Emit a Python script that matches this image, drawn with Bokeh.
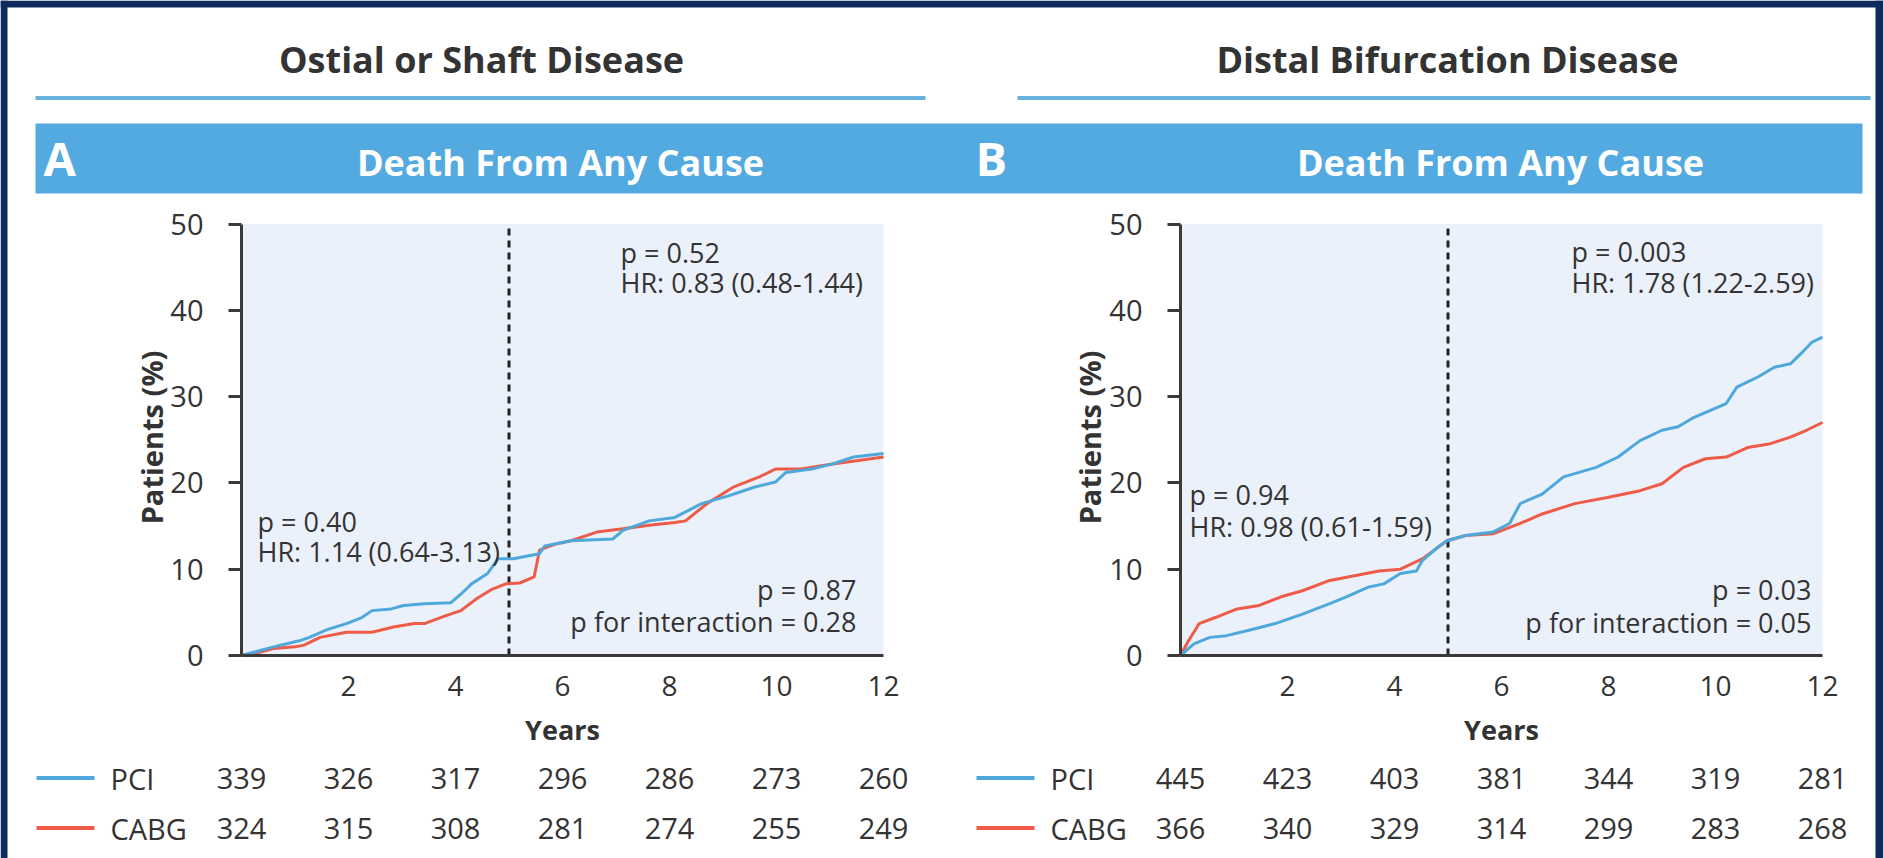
import math
from bokeh.plotting import figure
from bokeh.models import LinearAxis, FixedTicker, Range1d
from bokeh.core.properties import value
from bokeh.embed import file_html
from bokeh.resources import INLINE

# ---------------- data ----------------
x_ticks = [2, 4, 6, 8, 10, 12]
y_ticks = [0, 10, 20, 30, 40, 50]
risk_years = [0, 2, 4, 6, 8, 10, 12]
landmark_year = 5
groups = ["PCI", "CABG"]

a_title = "Ostial or Shaft Disease"
b_title = "Distal Bifurcation Disease"
outcome = "Death From Any Cause"

a_pci_t = [0, 0.3, 0.6, 1.08, 1.27, 1.6, 1.96, 2.25, 2.44, 2.8, 3.03, 3.42, 3.91, 4.1, 4.3, 4.6, 4.79,
           5.08, 5.57, 5.67, 6.16, 6.94, 7.13, 7.62, 8.1, 8.6, 9.1, 9.58, 9.98, 10.17, 10.66, 11.05, 11.44, 12.0]
a_pci_v = [0, 0.5, 1.0, 1.7, 2.1, 3.0, 3.7, 4.4, 5.2, 5.4, 5.8, 6.0, 6.1, 7.1, 8.3, 9.5, 11.2,
           11.2, 11.8, 12.7, 13.3, 13.5, 14.5, 15.6, 16.0, 17.6, 18.5, 19.5, 20.1, 21.2, 21.6, 22.2, 23.0, 23.4]
a_cabg_t = [0, 0.3, 0.6, 1.0, 1.17, 1.47, 1.96, 2.44, 2.84, 3.23, 3.42, 3.81, 4.1, 4.4, 4.69, 4.94, 5.2,
            5.47, 5.57, 5.86, 6.16, 6.64, 7.13, 7.62, 8.1, 8.3, 8.7, 9.19, 9.68, 9.98, 10.46, 11.05, 11.53, 12.0]
a_cabg_v = [0, 0.3, 0.8, 1.0, 1.2, 2.1, 2.7, 2.7, 3.3, 3.7, 3.7, 4.6, 5.2, 6.6, 7.7, 8.3, 8.4,
            9.1, 12.2, 12.9, 13.3, 14.3, 14.7, 15.1, 15.4, 15.6, 17.6, 19.5, 20.7, 21.6, 21.6, 22.2, 22.6, 23.0]

b_pci_t = [0, 0.25, 0.55, 0.86, 1.26, 1.77, 2.28, 2.79, 3.1, 3.5, 3.8, 4.11, 4.41, 4.52, 4.82, 4.98,
           5.33, 5.84, 6.15, 6.35, 6.76, 7.16, 7.77, 8.18, 8.59, 9.0, 9.3, 9.6, 10.2, 10.4, 10.8, 11.1,
           11.4, 11.6, 11.8, 12.0]
b_pci_v = [0, 1.35, 2.1, 2.3, 2.9, 3.7, 4.8, 6.0, 6.8, 7.9, 8.3, 9.5, 9.8, 11.0, 12.6, 13.3,
           13.9, 14.3, 15.3, 17.6, 18.7, 20.7, 21.8, 23.0, 24.9, 26.1, 26.5, 27.6, 29.2, 31.1, 32.3, 33.4,
           33.8, 35.0, 36.3, 36.9]
b_cabg_t = [0, 0.15, 0.35, 0.65, 1.06, 1.47, 1.88, 2.28, 2.79, 3.3, 3.71, 4.11, 4.52, 4.98, 5.33, 5.84,
            6.35, 6.76, 7.37, 7.98, 8.59, 9.0, 9.4, 9.81, 10.2, 10.6, 11.0, 11.4, 11.7, 12.0]
b_cabg_v = [0, 1.7, 3.7, 4.4, 5.4, 5.8, 6.8, 7.5, 8.7, 9.3, 9.8, 10.0, 11.2, 13.3, 13.9, 14.1,
            15.3, 16.4, 17.6, 18.3, 19.1, 19.9, 21.8, 22.8, 23.0, 24.1, 24.5, 25.3, 26.1, 27.0]

a_pci_risk = [339, 326, 317, 296, 286, 273, 260]
a_cabg_risk = [324, 315, 308, 281, 274, 255, 249]
b_pci_risk = [445, 423, 403, 381, 344, 319, 281]
b_cabg_risk = [366, 340, 329, 314, 299, 283, 268]

a_notes = ["p = 0.52", "HR: 0.83 (0.48-1.44)", "p = 0.40", "HR: 1.14 (0.64-3.13)",
           "p = 0.87", "p for interaction = 0.28"]
b_notes = ["p = 0.003", "HR: 1.78 (1.22-2.59)", "p = 0.94", "HR: 0.98 (0.61-1.59)",
           "p = 0.03", "p for interaction = 0.05"]

# ---------------- styles / layout ----------------
PCI_C = "#4ea8dc"
CABG_C = "#ee5b48"
BAND_C = "#53aae0"
RULE_C = "#67b3de"
SHADE_C = "#ebf1fa"
NAVY_C = "#0f2a5e"
TXT_C = "#333333"
AXIS_C = "#3a3a3a"
FONT = "Open Sans"

W = 1883
H = 858
PX_YR = 53.5
Y0 = 655.0
PX_U = (655.0 - 223.5) / 50.0
BASE_CORR = 0.36
X0_A = 241.0
X0_B = 1180.0

XA = lambda px: (px - X0_A) / PX_YR
XB = lambda px: (px - X0_B) / PX_YR
Y = lambda py: (Y0 - py) / PX_U

p = figure(width=W, height=H, x_range=Range1d(XA(0), XA(W)), y_range=Range1d(Y(H), Y(0)),
           output_backend="svg", toolbar_location=None,
           x_axis_location=None, y_axis_location=None, min_border=0)
p.extra_x_ranges = {"b": Range1d(XB(0), XB(W))}
p.outline_line_color = None
p.background_fill_color = "white"
p.border_fill_color = "white"
p.grid.visible = False


def txt(px, py, s, fs, align="left", bold=False, color=TXT_C):
    p.text(x=[XA(px)], y=[Y(py - BASE_CORR * fs)], text=[s], text_font=value(FONT),
           text_font_style="bold" if bold else "normal", text_font_size=f"{fs}px",
           text_color=color, text_align=align, text_baseline="alphabetic")


# navy frame (top, left, right)
p.quad(left=[XA(0)], right=[XA(W)], bottom=[Y(7)], top=[Y(0)], fill_color=NAVY_C, line_color=None)
p.quad(left=[XA(0)], right=[XA(7)], bottom=[Y(H)], top=[Y(0)], fill_color=NAVY_C, line_color=None)
p.quad(left=[XA(W - 8)], right=[XA(W)], bottom=[Y(H)], top=[Y(0)], fill_color=NAVY_C, line_color=None)

# header: titles, rules, band
p.quad(left=[XA(35)], right=[XA(1862)], bottom=[Y(193)], top=[Y(123)], fill_color=BAND_C, line_color=None)
for title, cx, rl, rr, letter, lx, bcx in ((a_title, 481, 35, 925, "A", 43, 560),
                                           (b_title, 1447, 1017, 1870, "B", 975, 1500)):
    txt(cx, 72, title, 36, "center", True)
    p.segment(x0=[XA(rl)], y0=[Y(97.5)], x1=[XA(rr)], y1=[Y(97.5)], line_color=RULE_C, line_width=4)
    txt(lx, 174, letter, 47, "left", True, "white")
    txt(bcx, 175, outcome, 36, "center", True, "white")


def panel(rname, pci_t, pci_v, cabg_t, cabg_v, pci_risk, cabg_risk, notes, note_pos,
          leg_l, leg_r, leg_text_x, ylab_x):
    kw = {} if rname is None else {"x_range_name": rname}
    p.quad(left=[0], right=[max(x_ticks)], bottom=[min(y_ticks)], top=[max(y_ticks)],
           fill_color=SHADE_C, line_color=None, **kw)
    p.segment(x0=[landmark_year], y0=[min(y_ticks)], x1=[landmark_year], y1=[max(y_ticks)],
              line_color="#222222", line_width=3, line_dash="7 5", **kw)
    p.line(cabg_t, cabg_v, line_color=CABG_C, line_width=3, **kw)
    p.line(pci_t, pci_v, line_color=PCI_C, line_width=3, **kw)
    xa = LinearAxis(fixed_location=0, bounds=(0, max(x_ticks)), ticker=FixedTicker(ticks=x_ticks),
                    axis_line_width=3, axis_line_color=AXIS_C,
                    major_tick_out=0, major_tick_in=0, minor_tick_out=0, minor_tick_in=0,
                    major_label_standoff=20, major_label_text_font=FONT,
                    major_label_text_font_size="28px", major_label_text_color=TXT_C, **kw)
    p.add_layout(xa, "below")
    ya = LinearAxis(fixed_location=0, bounds=(0, max(y_ticks)), ticker=FixedTicker(ticks=y_ticks),
                    axis_line_width=3, axis_line_color=AXIS_C,
                    major_tick_out=13, major_tick_in=0, major_tick_line_width=3, major_tick_line_color=AXIS_C,
                    minor_tick_out=0, minor_tick_in=0,
                    major_label_standoff=25, major_label_text_font=FONT,
                    major_label_text_font_size="29px", major_label_text_color=TXT_C, **kw)
    p.add_layout(ya, "left")
    p.text(x=[(min(risk_years) + max(risk_years)) / 2], y=[Y(739 - BASE_CORR * 27)], text=["Years"],
           text_font=value(FONT), text_font_style="bold", text_font_size="27px", text_color=TXT_C,
           text_align="center", text_baseline="alphabetic", **kw)
    p.text(x=[XA(ylab_x)], y=[Y(437)], text=["Patients (%)"], angle=math.pi / 2, text_font=value(FONT),
           text_font_style="bold", text_font_size="29px", text_color=TXT_C,
           text_align="center", text_baseline="middle")
    for s, (px, py, al) in zip(notes, note_pos):
        txt(px, py, s, 27, al)
    for grp, risk, col, base in ((groups[0], pci_risk, PCI_C, 788), (groups[1], cabg_risk, CABG_C, 838)):
        mid = base - 10.5
        p.segment(x0=[XA(leg_l)], y0=[Y(mid)], x1=[XA(leg_r)], y1=[Y(mid)], line_color=col, line_width=4)
        txt(leg_text_x, base, grp, 29)
        p.text(x=risk_years, y=[Y(base - BASE_CORR * 29)] * len(risk_years), text=[str(n) for n in risk],
               text_font=value(FONT), text_font_size="29px", text_color=TXT_C,
               text_align="center", text_baseline="alphabetic", **kw)


panel(None, a_pci_t, a_pci_v, a_cabg_t, a_cabg_v, a_pci_risk, a_cabg_risk, a_notes,
      [(620, 262, "left"), (620, 292, "left"), (257, 531, "left"), (257, 561, "left"),
       (856, 599, "right"), (856, 631, "right")],
      36, 94, 110, 151)
panel("b", b_pci_t, b_pci_v, b_cabg_t, b_cabg_v, b_pci_risk, b_cabg_risk, b_notes,
      [(1571, 261, "left"), (1571, 292, "left"), (1189, 504, "left"), (1189, 536, "left"),
       (1811, 599, "right"), (1811, 632, "right")],
      976, 1034, 1050, 1089)

open("out.html", "w").write(file_html(p, INLINE))
